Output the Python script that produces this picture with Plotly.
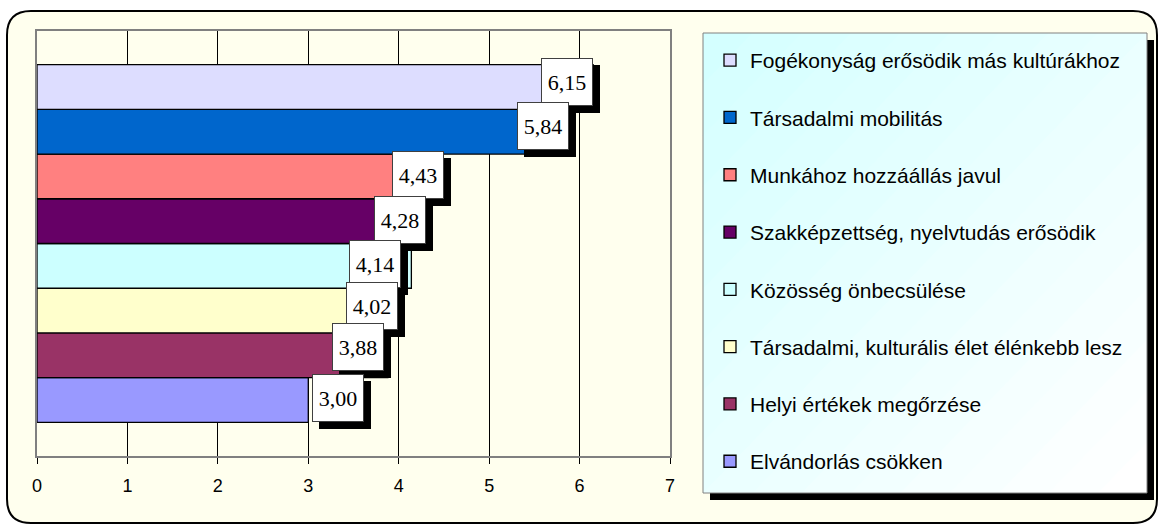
import plotly.graph_objects as go

# ---- data (top-to-bottom as displayed) ----
series = [
    "Fogékonyság erősödik más kultúrákhoz",
    "Társadalmi mobilitás",
    "Munkához hozzáállás javul",
    "Szakképzettség, nyelvtudás erősödik",
    "Közösség önbecsülése",
    "Társadalmi, kulturális élet élénkebb lesz",
    "Helyi értékek megőrzése",
    "Elvándorlás csökken",
]
values = [6.15, 5.84, 4.43, 4.28, 4.14, 4.02, 3.88, 3.00]
x_ticks = [0, 1, 2, 3, 4, 5, 6, 7]

# ---- styles ----
colors = ["#DDDDFF", "#0066CC", "#FF8080", "#660066", "#CCFFFF", "#FFFFCC", "#993366", "#9999FF"]
label_dx = [-26, -22, -20, -24, -36, -29, -30, 30]   # pixel shift of label boxes
label_dy = [5, 6, 1, 1, 2, 5, 8, 2]

W, H = 1161, 526
L, R, T, B = 37, 491, 31, 70
PW, PH = W - L - R, H - T - B
CAT = "x"
n = len(series)
gap = 1.5 / 9.5


def px(xp):
    return (xp - L) / PW


def py(yp):
    return (H - B - yp) / PH


fig = go.Figure()
# first trace drawn at bottom -> add in reverse display order
for k in reversed(range(n)):
    fig.add_trace(go.Bar(
        y=[CAT], x=[values[k]], orientation="h", name=series[k],
        legendgroup=series[k], legendrank=k + 1,
        marker=dict(color=colors[k], line=dict(color="black", width=1.3)),
        hoverinfo="x+name",
    ))

annotations = []
for k in range(n):
    j = n - 1 - k
    yc = -0.5 + gap / 2 + (j + 0.5) * (1 - gap) / n
    txt = f"{values[k]:.2f}".replace(".", ",")
    common = dict(x=values[k], y=yc, xref="x", yref="y", showarrow=False,
                  xanchor="center", yanchor="middle", width=50, height=46,
                  borderpad=0, borderwidth=1,
                  font=dict(family="Liberation Serif, Times New Roman, serif", size=22, color="black"))
    annotations.append(dict(common, text="", bgcolor="black", bordercolor="black",
                            xshift=label_dx[k] + 7, yshift=label_dy[k] - 7))
    annotations.append(dict(common, text=txt, bgcolor="white", bordercolor="#404040",
                            xshift=label_dx[k], yshift=label_dy[k]))


def rounded_rect(x0, y0, x1, y1, r):
    def P(a, b):
        return f"{px(a):.5f},{py(b):.5f}"
    return (f"M {P(x0 + r, y0)} L {P(x1 - r, y0)} Q {P(x1, y0)} {P(x1, y0 + r)} "
            f"L {P(x1, y1 - r)} Q {P(x1, y1)} {P(x1 - r, y1)} "
            f"L {P(x0 + r, y1)} Q {P(x0, y1)} {P(x0, y1 - r)} "
            f"L {P(x0, y0 + r)} Q {P(x0, y0)} {P(x0 + r, y0)} Z")


shapes = [
    dict(type="path", xref="paper", yref="paper", layer="below",
         path=rounded_rect(7, 11, 1157, 523, 24),
         fillcolor="#FFFFEE", line=dict(color="black", width=2)),
    # legend shadow
    dict(type="rect", xref="paper", yref="paper", layer="below",
         x0=px(710), x1=px(1154), y0=py(40), y1=py(500),
         fillcolor="black", line=dict(width=0)),
]

# legend box with diagonal gradient (cyan top-left -> white bottom-right)
LX0, LY0, LX1, LY1 = 703, 33, 1147, 493
steps = 18
c0, c1 = (212, 255, 255), (255, 255, 255)
for i in range(steps):
    c = 2.0 * i / steps
    t = i / (steps - 1)
    col = "rgb({},{},{})".format(*[round(a + (b - a) * t) for a, b in zip(c0, c1)])
    if c <= 1:
        pts = [(c, 0), (1, 0), (1, 1), (0, 1), (0, c)]
    else:
        pts = [(1, c - 1), (1, 1), (c - 1, 1)]
    coords = [(LX0 + u * (LX1 - LX0), LY0 + v * (LY1 - LY0)) for u, v in pts]
    path = "M " + " L ".join(f"{px(a):.5f},{py(b):.5f}" for a, b in coords) + " Z"
    shapes.append(dict(type="path", xref="paper", yref="paper", layer="below",
                       path=path, fillcolor=col, line=dict(width=0)))
shapes.append(dict(type="rect", xref="paper", yref="paper", layer="below",
                   x0=px(LX0), x1=px(LX1), y0=py(LY0), y1=py(LY1),
                   fillcolor="rgba(0,0,0,0)", line=dict(color="#808080", width=1)))

fig.update_layout(
    width=W, height=H,
    margin=dict(l=L, r=R, t=T, b=B),
    paper_bgcolor="white",
    plot_bgcolor="#D0D0D0",
    barmode="group", bargap=gap, bargroupgap=0,
    showlegend=True,
    legend=dict(
        x=px(710), y=py(40), xanchor="left", yanchor="top",
        bgcolor="rgba(0,0,0,0)", borderwidth=0,
        traceorder="grouped", tracegroupgap=27, maxheight=1000,
        font=dict(family="Liberation Sans, Arial, sans-serif", size=21, color="black"),
        valign="middle",
    ),
    xaxis=dict(range=[0, 7], tickvals=x_ticks, ticktext=[str(t) for t in x_ticks],
               showgrid=True, gridcolor="black", gridwidth=1, zeroline=False,
               showline=True, linecolor="#808080", linewidth=2, mirror=True,
               ticks="outside", ticklen=6, tickcolor="black", ticklabelstandoff=6,
               tickfont=dict(family="Liberation Sans, Arial, sans-serif", size=18, color="black"),
               fixedrange=True),
    yaxis=dict(type="category", range=[-0.5, 0.5], showticklabels=False,
               showgrid=False, zeroline=False, ticks="",
               showline=True, linecolor="#808080", linewidth=2, mirror=True,
               fixedrange=True),
    shapes=shapes,
    annotations=annotations,
)

fig.write_html("out.html", config={"displayModeBar": False},
               post_script="document.body.style.margin='0';document.body.style.overflow='hidden';")
